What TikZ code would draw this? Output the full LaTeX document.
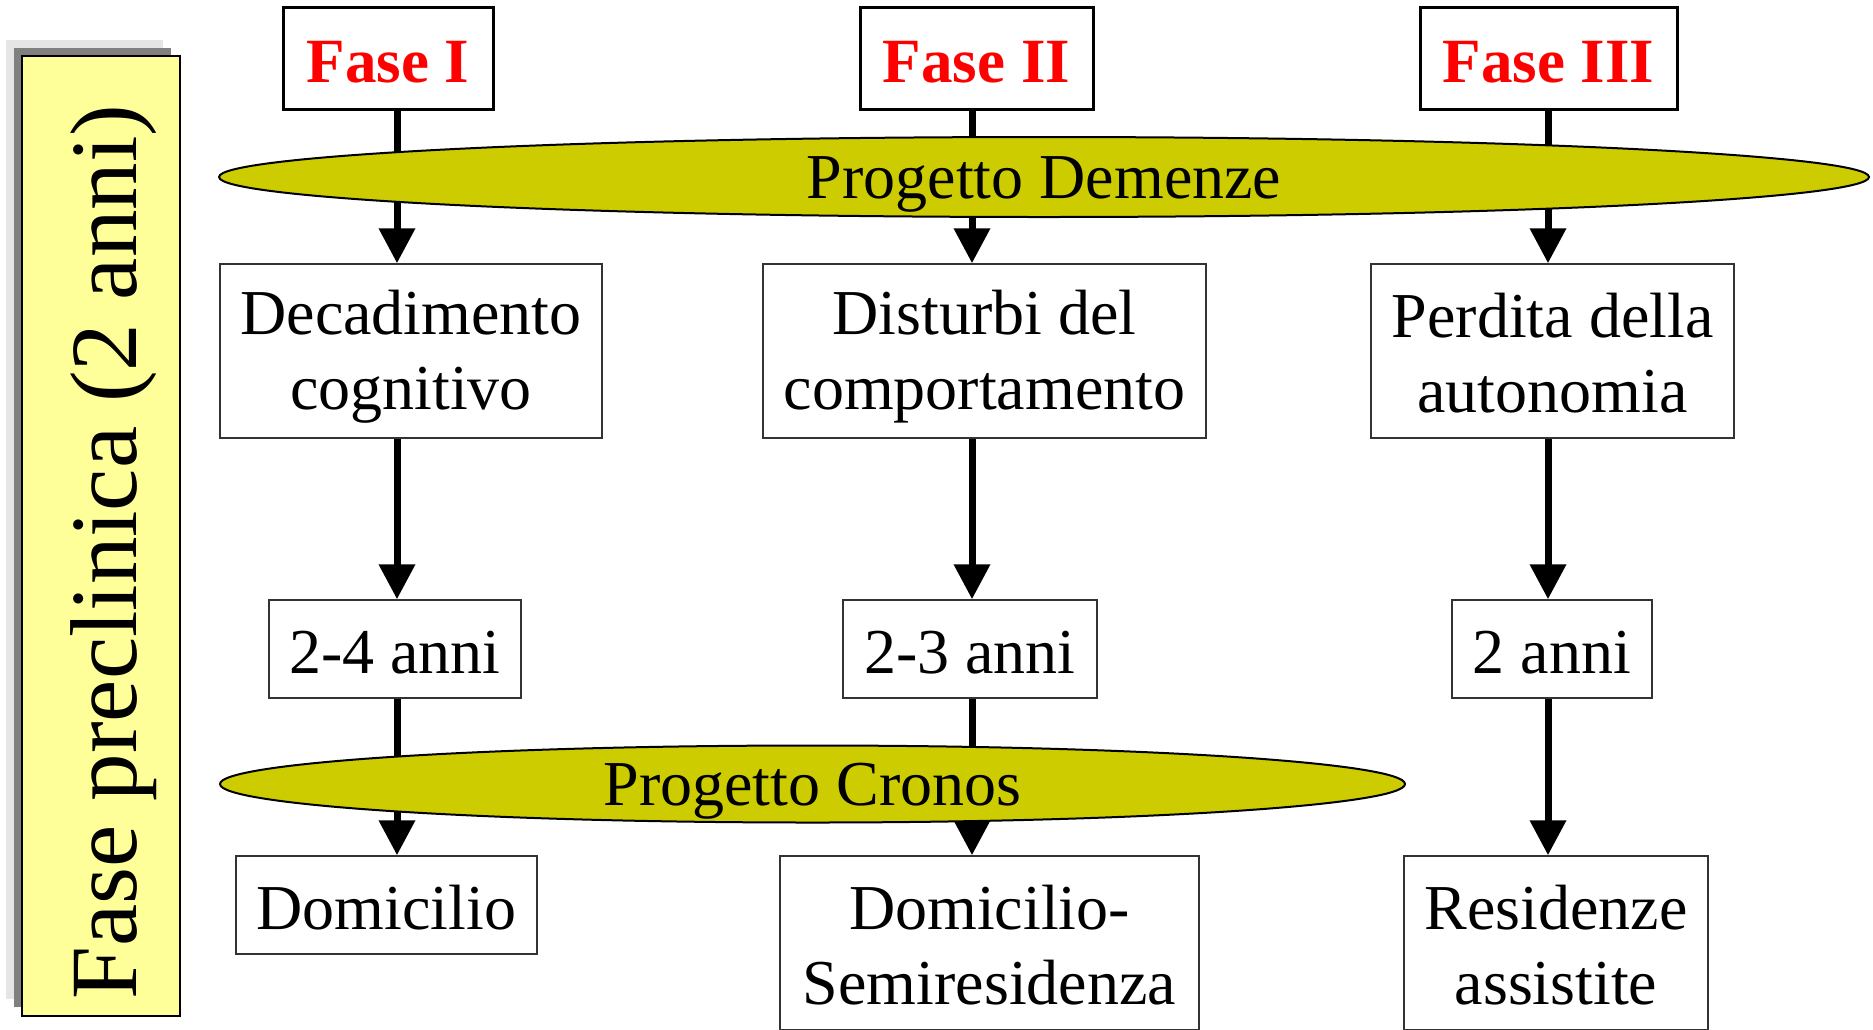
\documentclass[tikz,border=0pt]{standalone}
\usepackage{fontspec}
\setmainfont{Liberation Serif}
\usepackage{tikz}
\usetikzlibrary{arrows.meta,shapes.geometric}
\definecolor{postit}{HTML}{FFFF99}
\definecolor{ellfill}{HTML}{CCCC00}
\newcommand{\lstrut}{\rule[-8pt]{0pt}{64pt}}
\tikzset{>={Triangle[width=35pt,length=35pt]}}
\tikzset{
  fasebox/.style={draw=black,line width=3pt,fill=white,inner sep=0pt,text=red,font=\fontsize{63}{70}\selectfont\bfseries},
  infobox/.style={draw=black!80,line width=1.5pt,fill=white,inner sep=0pt,align=center,font=\fontsize{64}{75}\selectfont},
  projell/.style={ellipse,draw=black,line width=2pt,fill=ellfill,inner sep=0pt,label={[font=\fontsize{64}{75}\selectfont]center:\lstrut#1}},
  flow/.style={->,line width=7pt}
}

\begin{document}
\begin{tikzpicture}[x=1pt,y=-1pt]
                    \useasboundingbox (0,0) rectangle (1873,1029);
                    \clip (0,0) rectangle (1873,1029);
                    % side panel with two shadows
                    \fill[black!10] (6,40) rectangle (163,999);
                    \fill[black!50] (14,48) rectangle (171,1007);
                    \draw[fill=postit,draw=black,line width=1.5pt] (22,56) rectangle (180,1016);
                    \node[rotate=90,anchor=base,inner sep=0pt,font=\fontsize{95}{100}\selectfont] (pre) at (136,552) {Fase preclinica (2 anni)};
                    % columns
                    \coordinate (c1) at (397,0);
                    \coordinate (c2) at (972,0);
                    \coordinate (c3) at (1548,0);
                    \node[fasebox,minimum width=210pt,minimum height=102pt] (fI) at (388,58) {\lstrut Fase I};
                    \node[fasebox,minimum width=233pt,minimum height=102pt] (fII) at (976.5,58) {\lstrut Fase II};
                    \node[fasebox,minimum width=257pt,minimum height=102pt] (fIII) at (1548.5,58) {\lstrut Fase III};
                    \node[infobox,minimum width=382pt,minimum height=174pt] (dec) at (411,351) {\lstrut Decadimento\\\lstrut cognitivo};
                    \node[infobox,minimum width=443pt,minimum height=174pt] (dis) at (984.5,351) {\lstrut Disturbi del\\\lstrut comportamento};
                    \node[infobox,minimum width=363pt,minimum height=174pt] (per) at (1552.5,351) {\lstrut Perdita della\\\lstrut autonomia};
                    \node[infobox,minimum width=252pt,minimum height=98pt] (t1) at (395,649) {\lstrut 2-4 anni};
                    \node[infobox,minimum width=254pt,minimum height=98pt] (t2) at (970,649) {\lstrut 2-3 anni};
                    \node[infobox,minimum width=200pt,minimum height=98pt] (t3) at (1552,649) {\lstrut 2 anni};
                    \node[infobox,minimum width=301pt,minimum height=98pt] (dom) at (386.5,905) {\lstrut Domicilio};
                    \node[infobox,minimum width=419pt,minimum height=174pt] (sem) at (989.5,943) {\lstrut Domicilio-\\\lstrut Semiresidenza};
                    \node[infobox,minimum width=304pt,minimum height=174pt] (res) at (1556,943) {\lstrut Residenze\\\lstrut assistite};
                    % arrows
                    \draw[flow] (fI.south -| c1) -- (dec.north -| c1);
                    \draw[flow] (fII.south -| c2) -- (dis.north -| c2);
                    \draw[flow] (fIII.south -| c3) -- (per.north -| c3);
                    \draw[flow] (dec.south -| c1) -- (t1.north -| c1);
                    \draw[flow] (dis.south -| c2) -- (t2.north -| c2);
                    \draw[flow] (per.south -| c3) -- (t3.north -| c3);
                    \draw[flow] (t1.south -| c1) -- (dom.north -| c1);
                    \draw[flow] (t2.south -| c2) -- (sem.north -| c2);
                    \draw[flow] (t3.south -| c3) -- (res.north -| c3);
                    % projects
                    \node[projell=Progetto Demenze,minimum width=1650pt,minimum height=80pt] (dem) at (1044,177) {};
                    \node[projell=Progetto Cronos,minimum width=1185pt,minimum height=77pt] (cro) at (812.5,784) {};
                \end{tikzpicture}
\end{document}
